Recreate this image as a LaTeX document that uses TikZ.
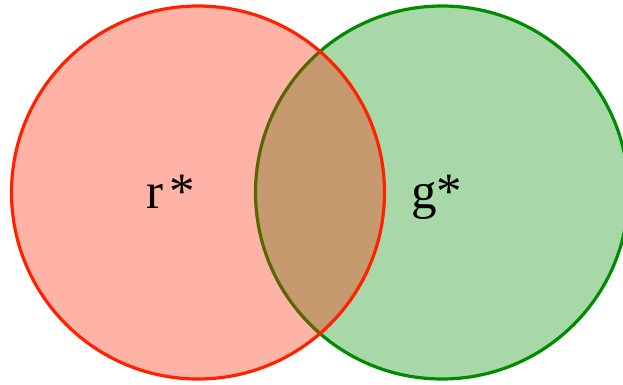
\documentclass[tikz,border=0pt]{standalone}
\usepackage{fontspec}
\setmainfont{Liberation Serif}
\definecolor{rstroke}{RGB}{255,34,0}
\definecolor{gstroke}{RGB}{0,140,0}
\definecolor{gfill}{RGB}{168,216,168}
\begin{document}
\begin{tikzpicture}[x=1pt,y=-1pt,
  setlabel/.style={font=\fontsize{51}{51}\selectfont, inner sep=0pt, anchor=base}]
\useasboundingbox (0,0) rectangle (623,384);
\begin{scope}
\clip (0,0) rectangle (623,384);
\draw[line width=3.2pt, gstroke, fill=gfill] (442,192.5) circle (186.5) coordinate (gc);
\draw[line width=3.2pt, rstroke, fill=rstroke, fill opacity=0.344] (198,192.5) circle (186.5) coordinate (rc);
\end{scope}
\node[setlabel] (r) at (171,208) {r\kern6pt*};
\node[setlabel] (g) at (436.5,208) {g*};
\end{tikzpicture}
\end{document}
